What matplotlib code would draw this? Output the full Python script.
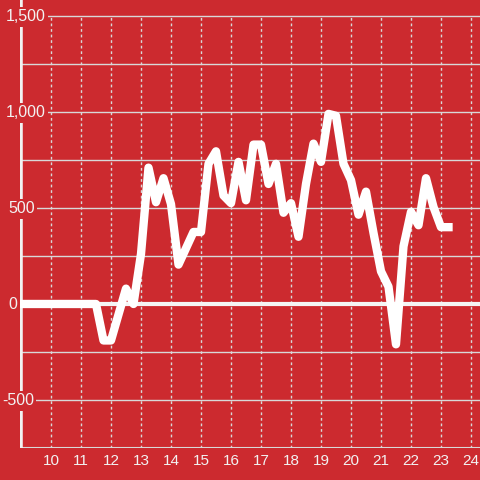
import numpy as np
import matplotlib.pyplot as plt

# hours and values
hours = np.arange(9.0, 23.26, 0.25)
values = [0, 0, 0, 0, 0, 0, 0, 0, 0, 0, 0,
          -190, -190, -55, 80, 0, 260, 710, 530, 655, 520,
          205, 290, 375, 375, 730, 795, 565, 525, 740, 540,
          830, 830, 625, 730, 475, 525, 350, 625, 835, 740,
          990, 980, 730, 645, 465, 585, 370, 170, 90, -210,
          300, 480, 410, 655, 505, 400, 400]
xticks = list(range(10, 25))
yticks = [-500, 0, 500, 1000, 1500]
ylabels = ["-500", "0", "500", "1,000", "1,500"]

bg = "#CC2A2F"
grid = "#D8D8D8"
txt = "#F2F2F2"

plt.rcParams['font.family'] = ['Liberation Sans', 'DejaVu Sans']

fig = plt.figure(figsize=(4.8, 4.8), dpi=100, facecolor=bg)
ax = fig.add_axes([20/480, 32/480, 460/480, 448/480])
ax.set_facecolor(bg)
ax.set_xlim(8.967, 24.3)
ax.set_ylim(-750, 1583)

for s in ax.spines.values():
    s.set_visible(False)
ax.set_xticks([])
ax.set_yticks([])

# horizontal grid every 250
for y in np.arange(-500, 1501, 250):
    if y != 0:
        ax.axhline(y, color=grid, lw=1, zorder=1)
# vertical dashed grid
ax.vlines(xticks, -750, 1500, colors=grid, lw=1, linestyles=(0, (2, 2)), zorder=1)

# bottom line and left axis
ax.axhline(-750, color=grid, lw=1.5, zorder=2)
ax.axvline(8.967, color="#F2F2F2", lw=4, zorder=2)
ax.axhline(0, color="#F5F5F5", lw=3, zorder=3)

ax.plot(hours, values, color="white", lw=6, solid_joinstyle="round",
        solid_capstyle="projecting", zorder=4)

for x in xticks:
    ax.annotate(str(x), xy=(x, 0), xycoords=("data", "figure pixels"),
                xytext=(0, 19), textcoords="offset pixels",
                ha="center", va="center", color=txt, fontsize=11)

lx = {"1,500": 6, "1,000": 6, "500": 8, "0": 8, "-500": 2}
for y, lab in zip(yticks, ylabels):
    ax.annotate(lab, xy=(0, y), xycoords=("figure pixels", "data"),
                xytext=(lx[lab], -1), textcoords="offset pixels",
                ha="left", va="center", color=txt, fontsize=11.5, zorder=5,
                bbox=dict(boxstyle="square,pad=0.15", fc=bg, ec="none"))

fig.savefig("out.png", dpi=100, facecolor=bg)
